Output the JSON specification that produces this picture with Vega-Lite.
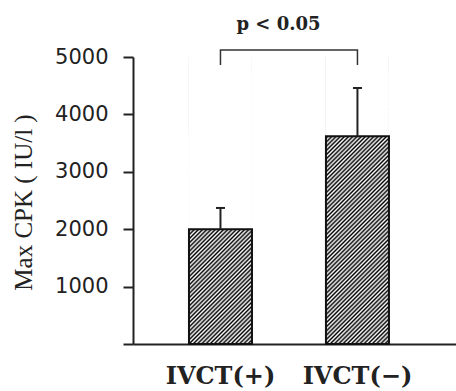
{
  "$schema": "https://vega.github.io/schema/vega-lite/v6.json",
  "width": 323,
  "height": 287,
  "autosize": "none",
  "padding": {"left": 133, "top": 57, "right": 0, "bottom": 47},
  "background": "white",
  "title": {"text": "p < 0.05", "font": "DejaVu Serif", "fontWeight": "bold", "fontSize": 18, "color": "#222", "anchor": "middle", "frame": "group", "dx": -16, "offset": -2, "baseline": "alphabetic"},
  "config": {"view": {"stroke": null}},
  "datasets": {
    "bars": [
      {"group": "IVCT(+)", "value": 2000, "upper": 2370},
      {"group": "IVCT(−)", "value": 3620, "upper": 4460}
    ],
    "bracket": [
      {"group": "IVCT(+)", "y": 4860, "order": 1},
      {"group": "IVCT(+)", "y": 5120, "order": 2},
      {"group": "IVCT(−)", "y": 5120, "order": 3},
      {"group": "IVCT(−)", "y": 4860, "order": 4}
    ]
  },
  "data": {"name": "bars"},
  "layer": [
    {
      "mark": {"type": "bar", "stroke": null, "fill": {"gradient": "linear", "x1": 0, "y1": 0, "x2": 0.2554, "y2": 1.1634, "stops": [
        {"offset":0.220,"color":"#000"},{"offset":0.226,"color":"#fff"},{"offset":0.232,"color":"#000"},{"offset":0.238,"color":"#fff"},
        {"offset":0.244,"color":"#000"},{"offset":0.250,"color":"#fff"},{"offset":0.256,"color":"#000"},{"offset":0.262,"color":"#fff"},
        {"offset":0.268,"color":"#000"},{"offset":0.274,"color":"#fff"},{"offset":0.280,"color":"#000"},{"offset":0.286,"color":"#fff"},
        {"offset":0.292,"color":"#000"},{"offset":0.298,"color":"#fff"},{"offset":0.304,"color":"#000"},{"offset":0.310,"color":"#fff"},
        {"offset":0.316,"color":"#000"},{"offset":0.322,"color":"#fff"},{"offset":0.328,"color":"#000"},{"offset":0.334,"color":"#fff"},
        {"offset":0.340,"color":"#000"},{"offset":0.346,"color":"#fff"},{"offset":0.352,"color":"#000"},{"offset":0.358,"color":"#fff"},
        {"offset":0.364,"color":"#000"},{"offset":0.370,"color":"#fff"},{"offset":0.376,"color":"#000"},{"offset":0.382,"color":"#fff"},
        {"offset":0.388,"color":"#000"},{"offset":0.394,"color":"#fff"},{"offset":0.400,"color":"#000"},{"offset":0.406,"color":"#fff"},
        {"offset":0.412,"color":"#000"},{"offset":0.418,"color":"#fff"},{"offset":0.424,"color":"#000"},{"offset":0.430,"color":"#fff"},
        {"offset":0.436,"color":"#000"},{"offset":0.442,"color":"#fff"},{"offset":0.448,"color":"#000"},{"offset":0.454,"color":"#fff"},
        {"offset":0.460,"color":"#000"},{"offset":0.466,"color":"#fff"},{"offset":0.472,"color":"#000"},{"offset":0.478,"color":"#fff"},
        {"offset":0.484,"color":"#000"},{"offset":0.490,"color":"#fff"},{"offset":0.496,"color":"#000"},{"offset":0.502,"color":"#fff"},
        {"offset":0.508,"color":"#000"},{"offset":0.514,"color":"#fff"},{"offset":0.520,"color":"#000"},{"offset":0.526,"color":"#fff"},
        {"offset":0.532,"color":"#000"},{"offset":0.538,"color":"#fff"},{"offset":0.544,"color":"#000"},{"offset":0.550,"color":"#fff"},
        {"offset":0.556,"color":"#000"},{"offset":0.562,"color":"#fff"},{"offset":0.568,"color":"#000"},{"offset":0.574,"color":"#fff"},
        {"offset":0.580,"color":"#000"},{"offset":0.586,"color":"#fff"},{"offset":0.592,"color":"#000"},{"offset":0.598,"color":"#fff"},
        {"offset":0.604,"color":"#000"},{"offset":0.610,"color":"#fff"},{"offset":0.616,"color":"#000"},{"offset":0.622,"color":"#fff"},
        {"offset":0.628,"color":"#000"},{"offset":0.634,"color":"#fff"},{"offset":0.640,"color":"#000"},{"offset":0.646,"color":"#fff"},
        {"offset":0.652,"color":"#000"},{"offset":0.658,"color":"#fff"},{"offset":0.664,"color":"#000"},{"offset":0.670,"color":"#fff"},
        {"offset":0.676,"color":"#000"},{"offset":0.682,"color":"#fff"},{"offset":0.688,"color":"#000"},{"offset":0.694,"color":"#fff"},
        {"offset":0.700,"color":"#000"},{"offset":0.706,"color":"#fff"},{"offset":0.712,"color":"#000"},{"offset":0.718,"color":"#fff"},
        {"offset":0.724,"color":"#000"},{"offset":0.730,"color":"#fff"},{"offset":0.736,"color":"#000"},{"offset":0.742,"color":"#fff"},
        {"offset":0.748,"color":"#000"},{"offset":0.754,"color":"#fff"},{"offset":0.760,"color":"#000"},{"offset":0.766,"color":"#fff"},
        {"offset":0.772,"color":"#000"},{"offset":0.778,"color":"#fff"},{"offset":0.784,"color":"#000"},{"offset":0.790,"color":"#fff"},
        {"offset":0.796,"color":"#000"},{"offset":0.802,"color":"#fff"},{"offset":0.808,"color":"#000"},{"offset":0.814,"color":"#fff"},
        {"offset":0.820,"color":"#000"},{"offset":0.826,"color":"#fff"},{"offset":0.832,"color":"#000"},{"offset":0.838,"color":"#fff"},
        {"offset":0.844,"color":"#000"},{"offset":0.850,"color":"#fff"},{"offset":0.856,"color":"#000"},{"offset":0.862,"color":"#fff"},
        {"offset":0.868,"color":"#000"},{"offset":0.874,"color":"#fff"},{"offset":0.880,"color":"#000"},{"offset":0.886,"color":"#fff"},
        {"offset":0.892,"color":"#000"},{"offset":0.898,"color":"#fff"},{"offset":0.904,"color":"#000"},{"offset":0.910,"color":"#fff"},
        {"offset":0.916,"color":"#000"},{"offset":0.922,"color":"#fff"},{"offset":0.928,"color":"#000"},{"offset":0.934,"color":"#fff"},
        {"offset":0.940,"color":"#000"},{"offset":0.946,"color":"#fff"},{"offset":0.952,"color":"#000"},{"offset":0.958,"color":"#fff"},
        {"offset":0.964,"color":"#000"},{"offset":0.970,"color":"#fff"},{"offset":0.976,"color":"#000"},{"offset":0.982,"color":"#fff"},
        {"offset":0.988,"color":"#000"},{"offset":0.994,"color":"#fff"},{"offset":1.000,"color":"#000"}
      ]}},
      "encoding": {
        "x": {"field": "group", "type": "nominal", "sort": null,
          "scale": {"paddingInner": 0.54, "paddingOuter": 0.449, "align": 0.455},
          "axis": {"title": null, "labelAngle": 0, "ticks": false, "tickSize": 0, "domainColor": "#222", "domainWidth": 2, "labelFont": "DejaVu Serif", "labelFontWeight": "bold", "labelFontSize": 24, "labelColor": "#222", "labelPadding": 20}},
        "y": {"datum": 5000, "type": "quantitative", "title": "Max CPK ( IU/l )",
          "scale": {"domain": [0, 5000], "nice": false},
          "axis": {"title": "Max CPK ( IU/l )", "values": [0, 1000, 2000, 3000, 4000, 5000], "labelExpr": "datum.value == 0 ? '' : format(datum.value, 'd')", "grid": false, "tickSize": 10, "tickWidth": 2, "tickColor": "#222", "domainWidth": 2, "domainColor": "#222", "labelFont": "DejaVu Sans", "labelFontSize": 21, "labelColor": "#222", "labelPadding": 15, "titleFont": "Liberation Serif", "titleFontSize": 25, "titleFontWeight": "normal", "titleColor": "#222", "titleX": -110, "titleY": 145, "titleAlign": "center", "titleBaseline": "middle", "titleAngle": -90}},
        "y2": {"datum": 0}
      }
    },
    {
      "mark": {"type": "bar", "fill": "white", "stroke": null},
      "encoding": {
        "x": {"field": "group", "type": "nominal", "sort": null},
        "y": {"field": "value", "type": "quantitative", "title": "Max CPK ( IU/l )"},
        "y2": {"datum": 5000}
      }
    },
    {
      "mark": {"type": "bar", "fill": "transparent", "stroke": "#111", "strokeWidth": 2},
      "encoding": {
        "x": {"field": "group", "type": "nominal", "sort": null},
        "y": {"field": "value", "type": "quantitative", "title": "Max CPK ( IU/l )"}
      }
    },
    {
      "mark": {"type": "rule", "stroke": "#222", "strokeWidth": 2},
      "encoding": {
        "x": {"field": "group", "type": "nominal", "sort": null},
        "y": {"field": "value", "type": "quantitative", "title": "Max CPK ( IU/l )"},
        "y2": {"field": "upper"}
      }
    },
    {
      "mark": {"type": "tick", "size": 9, "thickness": 2, "color": "#222", "opacity": 1},
      "encoding": {
        "x": {"field": "group", "type": "nominal", "sort": null},
        "y": {"field": "upper", "type": "quantitative", "title": "Max CPK ( IU/l )"}
      }
    },
    {
      "data": {"name": "bracket"},
      "mark": {"type": "line", "stroke": "#333", "strokeWidth": 1.5},
      "encoding": {
        "x": {"field": "group", "type": "nominal", "sort": null},
        "y": {"field": "y", "type": "quantitative", "title": "Max CPK ( IU/l )"},
        "order": {"field": "order", "type": "quantitative"}
      }
    }
  ]
}
